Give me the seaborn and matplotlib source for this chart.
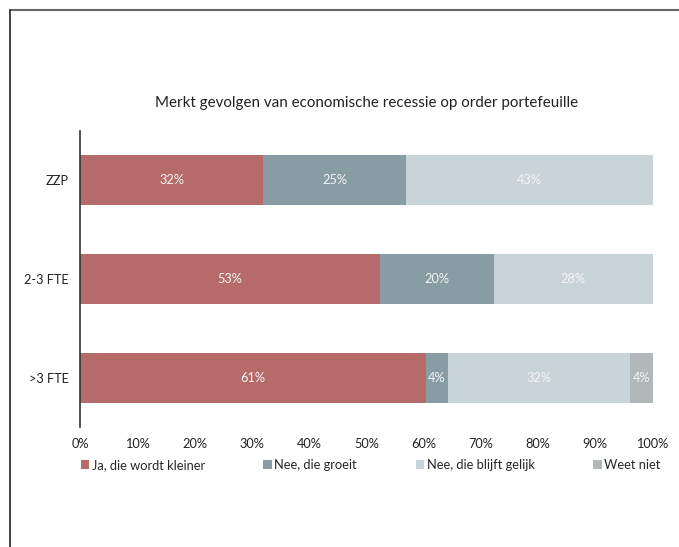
import numpy as np
import pandas as pd
import matplotlib
matplotlib.use("Agg")
import matplotlib.pyplot as plt
from matplotlib.patches import Patch
from matplotlib.lines import Line2D
import seaborn as sns

# Survey answers per company size (percent of respondents)
categories = ["ZZP", "2-3 FTE", ">3 FTE"]
series_names = ["Ja, die wordt kleiner", "Nee, die groeit",
                "Nee, die blijft gelijk", "Weet niet"]
ja_kleiner = [32, 53, 61]
nee_groeit = [25, 20, 4]
nee_gelijk = [43, 28, 32]
weet_niet = [0, 0, 4]
colors = ["#b56b6a", "#879da3", "#c9d4d8", "#b2b8ba"]
x_ticks = [0, 10, 20, 30, 40, 50, 60, 70, 80, 90, 100]

sns.set_theme(style="white")
plt.rcParams["font.family"] = ["Lato", "DejaVu Sans"]

values = np.array([ja_kleiner, nee_groeit, nee_gelijk, weet_niet], dtype=float)
# 100% stacked: each row is scaled to its own total
shares = values / values.sum(axis=0) * 100
cum = np.cumsum(shares, axis=0)

fig = plt.figure(figsize=(6.79, 5.47), dpi=100)
ax = fig.add_axes([0.1178, 0.2194, 0.8432, 0.5411])

# draw cumulative bars from the outermost segment inwards
for i in range(len(series_names) - 1, -1, -1):
    df = pd.DataFrame({"cat": categories, "val": cum[i]})
    sns.barplot(data=df, x="val", y="cat", color=colors[i], orient="h",
                width=0.505, saturation=1, ax=ax, linewidth=0)

# value labels centred in each segment
for i in range(len(series_names)):
    for j in range(len(categories)):
        if values[i, j] <= 0:
            continue
        start = cum[i, j] - shares[i, j]
        ax.text(start + shares[i, j] / 2, j, f"{int(values[i, j])}%",
                ha="center", va="center", color="#f4f4f4", fontsize=9.2)

ax.set_xlim(0, 100)
ax.set_ylim(2.495, -0.495)
ax.set_xticks(x_ticks)
ax.set_xticklabels([f"{t}%" for t in x_ticks], fontsize=9.2, color="#222222")
ax.tick_params(axis="y", labelsize=9.2, colors="#222222", length=0, pad=8)
ax.tick_params(axis="x", length=0, pad=8)
ax.set_xlabel("")
ax.set_ylabel("")
for side in ["top", "right", "bottom"]:
    ax.spines[side].set_visible(False)
ax.spines["left"].set_color("#333333")
ax.spines["left"].set_linewidth(1.2)

ax.set_title("Merkt gevolgen van economische recessie op order portefeuille",
             fontsize=10.9, color="#222222", pad=17)

handles = [Patch(facecolor=c, edgecolor="none") for c in colors]
fig.legend(handles, series_names, loc="center left", ncol=4,
           bbox_to_anchor=(0.111, 1 - 465 / 547), frameon=False,
           fontsize=9.3, handlelength=0.65, handleheight=0.65,
           handletextpad=0.2, columnspacing=4.55, borderaxespad=0)

# page frame along the top and left edge
fig.add_artist(Line2D([10 / 679, 1.0], [1 - 10 / 547, 1 - 10 / 547],
                      transform=fig.transFigure, color="#666666", lw=1.5))
fig.add_artist(Line2D([10 / 679, 10 / 679], [0.0, 1 - 10 / 547],
                      transform=fig.transFigure, color="#333333", lw=1.3))

fig.savefig("out.png", dpi=100)
